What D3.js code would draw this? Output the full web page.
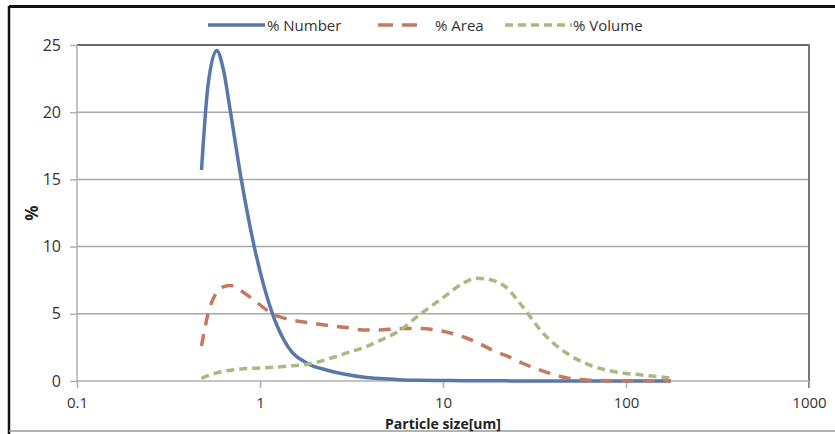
<!DOCTYPE html>
<html><head><meta charset="utf-8">
<script src="https://cdn.jsdelivr.net/npm/d3@7"></script>
<style>body{margin:0;background:#fff}svg{display:block}text{font-family:"Open Sans","Noto Sans",sans-serif}</style>
</head><body><svg id="c" width="835" height="434"></svg>
<script>
const sizes = [0.479,0.52,0.58,0.63,0.69,0.79,0.93,1.17,1.42,1.82,2.31,3.08,3.63,4.5,5.78,7.4,10,13.4,15.2,18.6,22,27,35,47,63,88,122,176];
const numberPct = [15.7,22,24.6,23.2,20,15,10,5,2.56,1.31,0.82,0.45,0.3,0.18,0.1,0.06,0.04,0.02,0.02,0.01,0.01,0,0,0,0,0,0,0];
const areaPct = [2.6,5.0,6.6,7.0,7.1,6.7,6.0,5.0,4.6,4.35,4.15,3.95,3.8,3.8,3.9,3.9,3.7,3.2,2.9,2.3,1.9,1.34,0.75,0.25,0.06,0.02,0.02,0.02];
const volumePct = [0.2,0.4,0.6,0.72,0.8,0.9,0.95,1.02,1.1,1.25,1.6,2.15,2.45,3.0,3.75,4.9,6.2,7.4,7.65,7.5,7.0,5.6,3.6,2.1,1.2,0.67,0.45,0.22];
const xTicks = [0.1,1,10,100,1000];
const xTickLabels = ["0.1","1","10","100","1000"];
const yTicks = [0,5,10,15,20,25];
const seriesNames = ["% Number","% Area","% Volume"];
const seriesColors = ["#5877aa","#c47a5e","#a7ba80"];

const svg = d3.select("#c");
// outer frame
svg.append("line").attr("x1",9).attr("x2",835).attr("y1",6.5).attr("y2",6.5).attr("stroke","#111").attr("stroke-width",3);
svg.append("line").attr("x1",9).attr("x2",9).attr("y1",6).attr("y2",434).attr("stroke","#111").attr("stroke-width",2.5);
svg.append("line").attr("x1",9).attr("x2",835).attr("y1",431).attr("y2",431).attr("stroke","#999").attr("stroke-width",1.5);

const x = d3.scaleLog().domain([0.1,1000]).range([77,809]);
const y = d3.scaleLinear().domain([0,25]).range([381,45]);

// gridlines
svg.append("g").selectAll("line").data(yTicks.filter(d=>d>0)).join("line")
  .attr("x1",77).attr("x2",809).attr("y1",d=>y(d)).attr("y2",d=>y(d))
  .attr("stroke",d=>d===25?"#6a6a6a":"#a8a8a8").attr("stroke-width",d=>d===25?2:1.5);
// right border
svg.append("line").attr("x1",809).attr("x2",809).attr("y1",44).attr("y2",388).attr("stroke","#777").attr("stroke-width",2);

// y axis
const yAxis = d3.axisLeft(y).tickValues(yTicks).tickSize(7).tickPadding(9);
const gy = svg.append("g").attr("transform","translate(77,0)").call(yAxis);
gy.select(".domain").attr("stroke","#b0b0b0").attr("stroke-width",1.5).attr("d","M0,45V381");
gy.selectAll(".tick line").attr("stroke","#b0b0b0").attr("stroke-width",1.5);
gy.selectAll("text").attr("font-size",16).attr("fill","#333");

// x axis
const xAxis = d3.axisBottom(x).tickValues(xTicks).tickFormat((d,i)=>xTickLabels[i]).tickSize(7).tickPadding(9);
const gx = svg.append("g").attr("transform","translate(0,381)").call(xAxis);
gx.select(".domain").attr("stroke","#b0b0b0").attr("stroke-width",1.5).attr("d","M77,0H809");
gx.selectAll(".tick line").attr("stroke","#b0b0b0").attr("stroke-width",1.5);
gx.selectAll("text").attr("font-size",15).attr("fill","#333");

// titles
svg.append("text").attr("x",443).attr("y",429).attr("text-anchor","middle").attr("font-size",14).attr("font-weight","bold").attr("fill","#222").text("Particle size[um]");
svg.append("text").attr("transform","translate(38,213) rotate(-90)").attr("text-anchor","middle").attr("font-size",17).attr("font-weight","bold").attr("fill","#222").text("%");

// series
const dashes = [null,"12,9","8,5"];
const data = [numberPct, areaPct, volumePct];
const line = d3.line().x(d=>x(d[0])).y(d=>y(d[1])).curve(d3.curveMonotoneX);
data.forEach((vals,i)=>{
  svg.append("path").datum(sizes.map((s,j)=>[s,vals[j]]))
    .attr("d",line).attr("fill","none").attr("stroke",seriesColors[i])
    .attr("stroke-width",3.5).attr("stroke-dasharray",dashes[i]);
});

// legend
const leg = [{x1:208,x2:265,tx:267},{x1:378,x2:418,tx:435},{x1:505,x2:572,tx:573}];
leg.forEach((l,i)=>{
  svg.append("line").attr("x1",l.x1).attr("x2",l.x2).attr("y1",25).attr("y2",25)
    .attr("stroke",seriesColors[i]).attr("stroke-width",3.5).attr("stroke-dasharray",i===1?"15,9":dashes[i]);
  svg.append("text").attr("x",l.tx).attr("y",30.5).attr("font-size",15).attr("fill","#333").text(seriesNames[i]);
});
</script></body></html>
